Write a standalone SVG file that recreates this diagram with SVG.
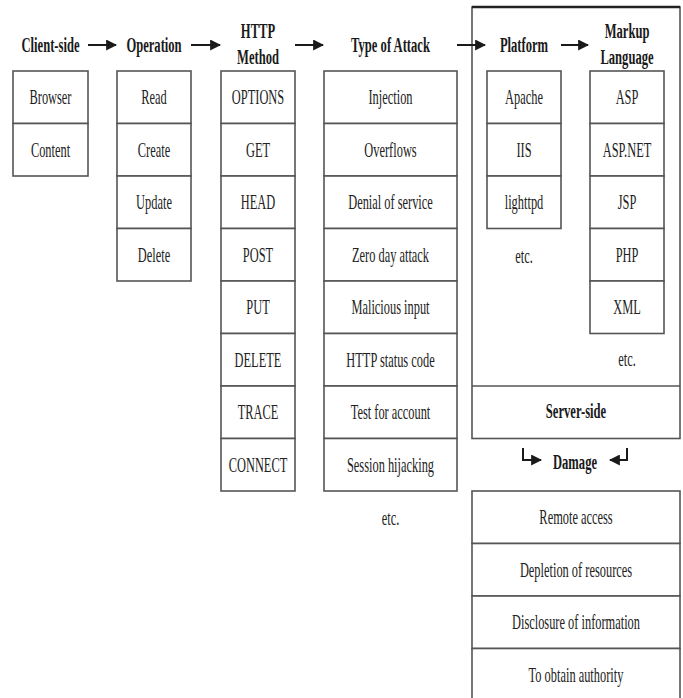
<svg xmlns="http://www.w3.org/2000/svg" width="683" height="698" viewBox="0 0 683 698">
<style>
.bx{fill:#fff;stroke:#555;stroke-width:1.6}
.t{font-family:'Liberation Serif','DejaVu Serif',serif;font-size:20px;fill:#222;text-anchor:middle}
.h{font-family:'Liberation Serif','DejaVu Serif',serif;font-size:21px;font-weight:bold;fill:#1a1a1a;text-anchor:middle}
.ln{stroke:#1a1a1a;stroke-width:2;fill:none}
</style>
<defs>
<marker id="ah" viewBox="0 0 10 10" refX="9" refY="5" markerWidth="5.5" markerHeight="5.5" orient="auto">
<path d="M0,0 L10,5 L0,10 Z" fill="#1a1a1a"/>
</marker>
</defs>
<rect width="683" height="698" fill="#fff"/>

<g id="server-side">
<rect x="472" y="7" width="208" height="431.5" fill="none" stroke="#555" stroke-width="1.6"/>
<line x1="472" y1="7" x2="680" y2="7" stroke="#222" stroke-width="2.4"/>
<line x1="472" y1="386" x2="680" y2="386" stroke="#555" stroke-width="1.6"/>
<text class="h" transform="matrix(0.6 0 0 1 576 418)">Server-side</text>
</g>

<g id="headers">
<g id="h-client"><text class="h" transform="matrix(0.6 0 0 1 50.5 52)">Client-side</text></g>
<g id="h-operation"><text class="h" transform="matrix(0.6 0 0 1 154 52)">Operation</text></g>
<g id="h-http"><text class="h" transform="matrix(0.6 0 0 1 258 38)">HTTP</text><text class="h" transform="matrix(0.6 0 0 1 258 64)">Method</text></g>
<g id="h-type"><text class="h" transform="matrix(0.6 0 0 1 390.5 52)">Type of Attack</text></g>
<g id="h-platform"><text class="h" transform="matrix(0.6 0 0 1 524 52)">Platform</text></g>
<g id="h-markup"><text class="h" transform="matrix(0.6 0 0 1 627 38)">Markup</text><text class="h" transform="matrix(0.6 0 0 1 627 64)">Language</text></g>
<g id="h-damage"><text class="h" transform="matrix(0.6 0 0 1 575 469)">Damage</text></g>
</g>

<g id="connectors">
<line class="ln" x1="88" y1="45" x2="116" y2="45" marker-end="url(#ah)"/>
<line class="ln" x1="191" y1="45" x2="220" y2="45" marker-end="url(#ah)"/>
<line class="ln" x1="295" y1="45" x2="323" y2="45" marker-end="url(#ah)"/>
<line class="ln" x1="457" y1="45" x2="485" y2="45" marker-end="url(#ah)"/>
<line class="ln" x1="561" y1="45" x2="588" y2="45" marker-end="url(#ah)"/>
<path class="ln" d="M523,448 V460 H541" marker-end="url(#ah)"/>
<path class="ln" d="M627,448 V460 H610" marker-end="url(#ah)"/>
</g>

<g id="client-side">
<g id="c-browser"><rect class="bx" x="13" y="71" width="75" height="52.5"/><text class="t" transform="matrix(0.62 0 0 1 50.5 104)">Browser</text></g>
<g id="c-content"><rect class="bx" x="13" y="123.5" width="75" height="52.5"/><text class="t" transform="matrix(0.62 0 0 1 50.5 156.5)">Content</text></g>
</g>

<g id="operation">
<g id="o-read"><rect class="bx" x="117" y="71" width="74" height="52.5"/><text class="t" transform="matrix(0.62 0 0 1 154 104)">Read</text></g>
<g id="o-create"><rect class="bx" x="117" y="123.5" width="74" height="52.5"/><text class="t" transform="matrix(0.62 0 0 1 154 156.5)">Create</text></g>
<g id="o-update"><rect class="bx" x="117" y="176" width="74" height="52.5"/><text class="t" transform="matrix(0.62 0 0 1 154 209)">Update</text></g>
<g id="o-delete"><rect class="bx" x="117" y="228.5" width="74" height="52.5"/><text class="t" transform="matrix(0.62 0 0 1 154 261.5)">Delete</text></g>
</g>

<g id="http-method">
<g id="m-options"><rect class="bx" x="221" y="71" width="74" height="52.5"/><text class="t" transform="matrix(0.62 0 0 1 258 104)">OPTIONS</text></g>
<g id="m-get"><rect class="bx" x="221" y="123.5" width="74" height="52.5"/><text class="t" transform="matrix(0.62 0 0 1 258 156.5)">GET</text></g>
<g id="m-head"><rect class="bx" x="221" y="176" width="74" height="52.5"/><text class="t" transform="matrix(0.62 0 0 1 258 209)">HEAD</text></g>
<g id="m-post"><rect class="bx" x="221" y="228.5" width="74" height="52.5"/><text class="t" transform="matrix(0.62 0 0 1 258 261.5)">POST</text></g>
<g id="m-put"><rect class="bx" x="221" y="281" width="74" height="52.5"/><text class="t" transform="matrix(0.62 0 0 1 258 314)">PUT</text></g>
<g id="m-delete"><rect class="bx" x="221" y="333.5" width="74" height="52.5"/><text class="t" transform="matrix(0.62 0 0 1 258 366.5)">DELETE</text></g>
<g id="m-trace"><rect class="bx" x="221" y="386" width="74" height="52.5"/><text class="t" transform="matrix(0.62 0 0 1 258 419)">TRACE</text></g>
<g id="m-connect"><rect class="bx" x="221" y="438.5" width="74" height="52.5"/><text class="t" transform="matrix(0.62 0 0 1 258 471.5)">CONNECT</text></g>
</g>

<g id="type-of-attack">
<g id="a-injection"><rect class="bx" x="324" y="71" width="133" height="52.5"/><text class="t" transform="matrix(0.62 0 0 1 390.5 104)">Injection</text></g>
<g id="a-overflows"><rect class="bx" x="324" y="123.5" width="133" height="52.5"/><text class="t" transform="matrix(0.62 0 0 1 390.5 156.5)">Overflows</text></g>
<g id="a-dos"><rect class="bx" x="324" y="176" width="133" height="52.5"/><text class="t" transform="matrix(0.62 0 0 1 390.5 209)">Denial of service</text></g>
<g id="a-zeroday"><rect class="bx" x="324" y="228.5" width="133" height="52.5"/><text class="t" transform="matrix(0.62 0 0 1 390.5 261.5)">Zero day attack</text></g>
<g id="a-malicious"><rect class="bx" x="324" y="281" width="133" height="52.5"/><text class="t" transform="matrix(0.62 0 0 1 390.5 314)">Malicious input</text></g>
<g id="a-status"><rect class="bx" x="324" y="333.5" width="133" height="52.5"/><text class="t" transform="matrix(0.62 0 0 1 390.5 366.5)">HTTP status code</text></g>
<g id="a-account"><rect class="bx" x="324" y="386" width="133" height="52.5"/><text class="t" transform="matrix(0.62 0 0 1 390.5 419)">Test for account</text></g>
<g id="a-session"><rect class="bx" x="324" y="438.5" width="133" height="52.5"/><text class="t" transform="matrix(0.62 0 0 1 390.5 471.5)">Session hijacking</text></g>
<g id="a-etc"><text class="t" transform="matrix(0.62 0 0 1 390.5 525)">etc.</text></g>
</g>

<g id="platform">
<g id="p-apache"><rect class="bx" x="487" y="71" width="74" height="52.5"/><text class="t" transform="matrix(0.62 0 0 1 524 104)">Apache</text></g>
<g id="p-iis"><rect class="bx" x="487" y="123.5" width="74" height="52.5"/><text class="t" transform="matrix(0.62 0 0 1 524 156.5)">IIS</text></g>
<g id="p-lighttpd"><rect class="bx" x="487" y="176" width="74" height="52.5"/><text class="t" transform="matrix(0.62 0 0 1 524 209)">lighttpd</text></g>
<g id="p-etc"><text class="t" transform="matrix(0.62 0 0 1 524 263)">etc.</text></g>
</g>

<g id="markup-language">
<g id="l-asp"><rect class="bx" x="590" y="71" width="74" height="52.5"/><text class="t" transform="matrix(0.62 0 0 1 627 104)">ASP</text></g>
<g id="l-aspnet"><rect class="bx" x="590" y="123.5" width="74" height="52.5"/><text class="t" transform="matrix(0.62 0 0 1 627 156.5)">ASP.NET</text></g>
<g id="l-jsp"><rect class="bx" x="590" y="176" width="74" height="52.5"/><text class="t" transform="matrix(0.62 0 0 1 627 209)">JSP</text></g>
<g id="l-php"><rect class="bx" x="590" y="228.5" width="74" height="52.5"/><text class="t" transform="matrix(0.62 0 0 1 627 261.5)">PHP</text></g>
<g id="l-xml"><rect class="bx" x="590" y="281" width="74" height="52.5"/><text class="t" transform="matrix(0.62 0 0 1 627 314)">XML</text></g>
<g id="l-etc"><text class="t" transform="matrix(0.62 0 0 1 627 366)">etc.</text></g>
</g>

<g id="damage">
<g id="d-remote"><rect class="bx" x="472" y="491" width="208" height="52.5"/><text class="t" transform="matrix(0.62 0 0 1 576 524)">Remote access</text></g>
<g id="d-depletion"><rect class="bx" x="472" y="543.5" width="208" height="52.5"/><text class="t" transform="matrix(0.62 0 0 1 576 576.5)">Depletion of resources</text></g>
<g id="d-disclosure"><rect class="bx" x="472" y="596" width="208" height="52.5"/><text class="t" transform="matrix(0.62 0 0 1 576 629)">Disclosure of information</text></g>
<g id="d-authority"><rect class="bx" x="472" y="648.5" width="208" height="52.5"/><text class="t" transform="matrix(0.62 0 0 1 576 681.5)">To obtain authority</text></g>
</g>
</svg>
